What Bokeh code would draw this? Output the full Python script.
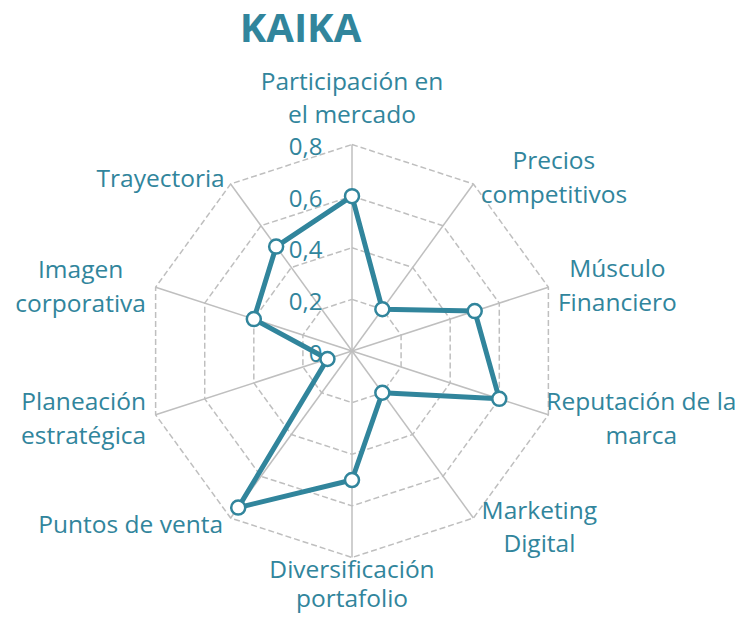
import numpy as np
from bokeh.plotting import figure
from bokeh.models import ColumnDataSource, Range1d
from bokeh.embed import file_html
from bokeh.resources import INLINE
from bokeh.core.properties import value

# ---------------- data ----------------
title = "KAIKA"
categories = [
    "Participación en\nel mercado",
    "Precios\ncompetitivos",
    "Músculo\nFinanciero",
    "Reputación de la\nmarca",
    "Marketing\nDigital",
    "Diversificación\nportafolio",
    "Puntos de venta",
    "Planeación\nestratégica",
    "Imagen\ncorporativa",
    "Trayectoria",
]
values = [0.6, 0.2, 0.5, 0.6, 0.2, 0.5, 0.75, 0.1, 0.4, 0.5]
ticks = [0, 0.2, 0.4, 0.6, 0.8]
tick_labels = ["0", "0,2", "0,4", "0,6", "0,8"]
r_max = 0.8

# ---------------- layout / style ----------------
TEAL = "#31859C"
GRID = "#BFBFBF"
FONT = "Open Sans"
W, H = 740, 619
CX, CY = 351.5, 350.5          # centre of the radar in figure pixels
SCALE = 258.1                  # pixels per data unit
# offsets (px) of each label block centre from its outer vertex, and line spacing
label_off = [(0, -47.5), (80.5, -7.4), (69, -2.7), (93, 2.7), (66, 8),
             (0, 25.5), (-100, 5.4), (-72, 2.7), (-75, -1.7), (-70, -6.4)]
label_lh = [33.5, 33.5, 33.5, 33.5, 33.5, 29, 33.5, 33.5, 33.5, 33.5]

p = figure(width=W, height=H, output_backend="svg", toolbar_location=None,
           x_range=Range1d(-CX / SCALE, (W - CX) / SCALE),
           y_range=Range1d(-(H - CY) / SCALE, CY / SCALE),
           x_axis_type=None, y_axis_type=None, min_border=0,
           outline_line_color=None, background_fill_color="white",
           border_fill_color="white")
p.grid.visible = False

N = len(categories)
theta = np.arange(N) * 2 * np.pi / N
sx, cy = np.sin(theta), np.cos(theta)

# rings
for t in ticks[1:]:
    xs = list(t * sx) + [t * sx[0]]
    ys = list(t * cy) + [t * cy[0]]
    p.line(xs, ys, line_color=GRID, line_width=1.5, line_dash="6 3")

# spokes
p.segment(x0=np.zeros(N), y0=np.zeros(N), x1=r_max * sx, y1=r_max * cy,
          line_color=GRID, line_width=1.5)

# data series
v = np.array(values)
dx = list(v * sx) + [v[0] * sx[0]]
dy = list(v * cy) + [v[0] * cy[0]]
p.line(dx, dy, line_color=TEAL, line_width=5, line_join="round")
p.scatter(v * sx, v * cy, size=14, fill_color="white", line_color=TEAL,
          line_width=2.5)

# category labels (each line centred within its block)
lx, ly, lt, lxo, lyo = [], [], [], [], []
for i, cat in enumerate(categories):
    lines = cat.split("\n")
    n = len(lines)
    ox, oy = label_off[i]
    for k, ln in enumerate(lines):
        lx.append(r_max * sx[i])
        ly.append(r_max * cy[i])
        lt.append(ln)
        lxo.append(ox)
        lyo.append(oy + (k - (n - 1) / 2) * label_lh[i])
src = ColumnDataSource(dict(x=lx, y=ly, text=lt, xo=lxo, yo=lyo))
p.text(x="x", y="y", text="text", x_offset="xo", y_offset="yo", source=src,
       text_align="center", text_baseline="middle", text_font=value(FONT),
       text_font_size="24.5px", text_color=TEAL)

# tick labels
p.text(x=[0] * len(ticks), y=ticks, text=tick_labels, x_offset=-29.5,
       y_offset=2, text_align="right", text_baseline="middle",
       text_font=value(FONT), text_font_size="24px", text_color=TEAL)

# title
p.text(x=[(300 - CX) / SCALE], y=[(CY - 26) / SCALE], text=[title],
       text_align="center", text_baseline="middle", text_font=value(FONT),
       text_font_style="bold", text_font_size="40px", text_color=TEAL)

open("out.html", "w").write(file_html(p, INLINE))
